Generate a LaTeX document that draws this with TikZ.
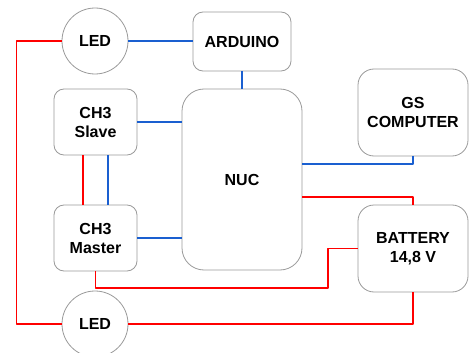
\documentclass[tikz,border=0pt]{standalone}
\usepackage{fontspec}
\setmainfont{Liberation Sans}
\usepackage{tikz}
\usetikzlibrary{calc,positioning}
\definecolor{wirered}{HTML}{FF0000}
\definecolor{wireblue}{HTML}{1A5FD0}
\definecolor{edgegray}{HTML}{9A9A9A}
\tikzset{
  blk/.style={draw=edgegray,line width=0.8pt,rounded corners=10pt,align=center,inner sep=0pt,font=\bfseries\fontsize{16}{19}\selectfont},
  led/.style={draw=edgegray,line width=0.8pt,circle,minimum size=66pt,inner sep=0pt,font=\bfseries\fontsize{16}{19}\selectfont},
  pwr/.style={wirered,line width=1.6pt},
  sig/.style={wireblue,line width=1.6pt}
}

\begin{document}
\begin{tikzpicture}[x=1pt,y=-1pt,line join=round]
\useasboundingbox (0,0) rectangle (469,353);
% --- boxes
\node[led] (ledtop) at (95,41) {LED};
\node[led] (ledbot) at (95,324) {LED};
\node[blk,minimum width=98pt,minimum height=59pt] (ard) at (242,41.5) {ARDUINO};
\node[blk,minimum width=83pt,minimum height=66pt] (slave) at (95.5,122) {CH3\\Slave};
\node[blk,minimum width=83pt,minimum height=66pt] (master) at (95.5,238) {CH3\\Master};
\node[blk,rounded corners=22pt,minimum width=120pt,minimum height=181pt] (nuc) at (242,179.5) {NUC};
\node[blk,rounded corners=16pt,minimum width=110pt,minimum height=87pt] (gs) at (413,112.5) {GS\\COMPUTER};
\node[blk,rounded corners=16pt,minimum width=110pt,minimum height=87pt] (batt) at (413,248.5) {BATTERY\\14,8 V};
\coordinate (bend) at (328,288);
% --- signal wires
\draw[sig] (ledtop.east) -- (ledtop.east -| ard.west);
\draw[sig] (ard.south) -- (nuc.north);
\draw[sig] (slave.east) -- (slave.east -| nuc.west);
\draw[sig] (master.east) -- (master.east -| nuc.west);
\draw[sig] ([xshift=12.5pt]slave.south) -- ([xshift=12.5pt]master.north);
\draw[sig] ($(nuc.east)+(0,-15.5)$) -| (gs.south);
% --- power wires
\draw[pwr] (ledtop.west) -- ++(-45,0) |- (ledbot.west);
\draw[pwr] ([xshift=-12.5pt]slave.south) -- ([xshift=-12.5pt]master.north);
\draw[pwr] (master.south) |- (bend) |- (batt.west);
\draw[pwr] ($(nuc.east)+(0,17.5)$) -| (batt.north);
\draw[pwr] (ledbot.east) -| (batt.south);
\end{tikzpicture}
\end{document}
